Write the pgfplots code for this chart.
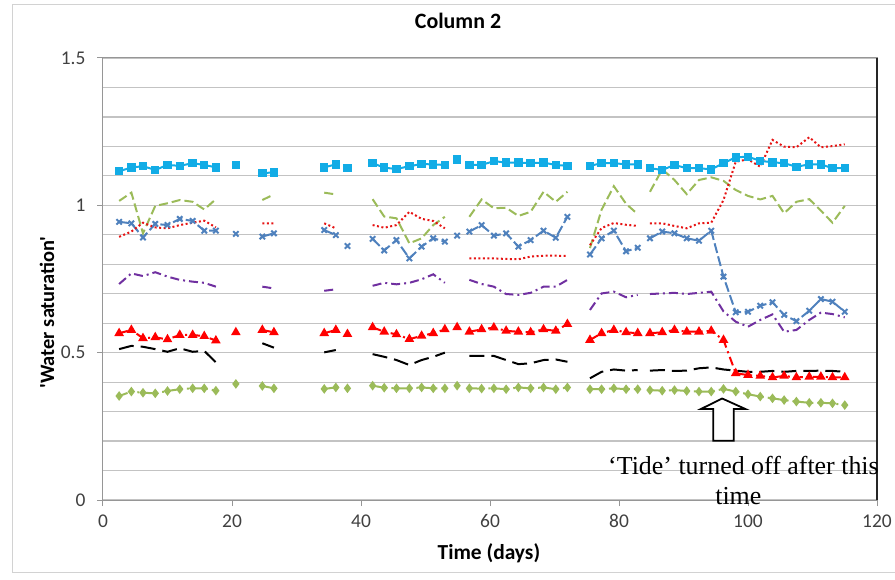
\documentclass[border=0pt]{standalone}
\usepackage{pgfplots}
\pgfplotsset{compat=1.18}
\usepackage{pgfplotstable}
\usepackage{fontspec}
\setmainfont{Carlito}[Ligatures=TeXOff]
\newfontfamily\timesfont{Liberation Serif}
\definecolor{cyanS}{RGB}{18,172,230}
\definecolor{oliveG}{RGB}{155,187,89}
\definecolor{blueX}{RGB}{79,129,189}
\definecolor{redT}{RGB}{255,0,0}
\definecolor{redD}{RGB}{230,20,20}
\definecolor{purpleD}{RGB}{112,48,160}
\definecolor{gridc}{RGB}{195,195,195}
\definecolor{axc}{RGB}{150,150,150}
\definecolor{tickc}{RGB}{64,64,64}

\pgfplotstableread{
t cy gd bx rd pu rt bk gm
2.5 1.116 1.015 0.944 0.893 0.733 0.566 0.512 0.353
4.4 1.128 1.043 0.939 0.911 0.769 0.577 0.523 0.368
6.2 1.133 0.905 0.891 0.941 0.760 0.549 0.520 0.364
8.1 1.120 0.998 0.937 0.925 0.773 0.552 0.512 0.362
10.0 1.137 1.007 0.933 0.922 0.758 0.545 0.503 0.370
11.9 1.134 1.018 0.954 0.933 0.747 0.560 0.515 0.376
13.9 1.143 1.012 0.947 0.941 0.741 0.560 0.503 0.379
15.7 1.137 0.986 0.914 0.948 0.737 0.556 0.506 0.379
17.5 1.129 1.021 0.914 0.925 0.724 0.541 0.467 0.371
19.0 nan nan nan nan nan nan nan nan
20.6 1.137 nan 0.903 nan nan 0.569 nan 0.394
22.0 nan nan nan nan nan nan nan nan
24.7 1.109 1.018 0.894 0.939 0.724 0.577 0.532 0.387
26.5 1.112 1.037 0.905 0.939 0.718 0.569 0.517 0.379
30.0 nan nan nan nan nan nan nan nan
34.3 1.129 1.043 0.916 0.939 0.710 0.566 0.501 0.377
36.1 1.139 1.037 0.899 0.922 0.715 0.577 0.509 0.382
37.0 nan nan nan nan nan nan nan nan
37.9 1.127 nan 0.862 nan nan 0.563 nan 0.379
39.8 nan nan nan nan nan nan nan nan
41.8 1.143 1.021 0.886 0.933 0.727 0.586 0.495 0.388
43.6 1.128 0.962 0.847 0.924 0.737 0.571 0.486 0.381
45.5 1.123 0.956 0.882 0.933 0.732 0.562 0.475 0.379
47.5 1.133 0.871 0.820 0.978 0.737 0.546 0.458 0.379
49.4 1.140 0.888 0.860 0.954 0.749 0.557 0.475 0.382
51.2 1.139 0.933 0.888 0.947 0.766 0.566 0.486 0.379
53.0 1.137 0.961 0.877 0.922 0.737 0.579 0.500 0.379
54.0 nan nan nan nan nan nan nan nan
54.9 1.156 nan 0.897 nan nan 0.586 nan 0.388
55.8 nan nan nan nan nan nan nan nan
56.8 1.137 0.961 0.911 0.820 0.747 0.571 0.489 0.379
58.7 1.137 1.020 0.933 0.820 0.733 0.579 0.489 0.378
60.6 1.150 0.990 0.897 0.820 0.724 0.585 0.489 0.379
62.5 1.145 0.992 0.905 0.818 0.699 0.574 0.475 0.376
64.4 1.145 0.964 0.860 0.817 0.696 0.571 0.461 0.382
66.3 1.143 0.978 0.882 0.826 0.703 0.569 0.464 0.379
68.3 1.145 1.046 0.914 0.829 0.724 0.579 0.475 0.382
70.2 1.137 1.012 0.890 0.829 0.724 0.574 0.477 0.376
72.0 1.134 1.046 0.961 0.828 0.747 0.597 0.469 0.382
74.0 nan nan nan nan nan nan nan nan
75.5 1.134 0.855 0.833 0.865 0.645 0.543 0.413 0.376
77.3 1.143 0.985 0.888 0.923 0.701 0.566 0.435 0.376
79.2 1.143 1.065 0.914 0.940 0.707 0.577 0.443 0.379
81.1 1.139 1.005 0.844 0.934 0.688 0.569 0.439 0.376
82.9 1.139 0.970 0.856 0.930 0.696 0.566 0.441 0.376
83.8 nan nan nan nan nan nan nan nan
84.8 1.126 1.046 0.888 0.939 0.699 0.566 0.439 0.373
86.7 1.120 1.122 0.911 0.939 0.701 0.569 0.441 0.371
88.6 1.137 1.086 0.905 0.930 0.703 0.577 0.438 0.373
90.5 1.126 1.038 0.888 0.922 0.699 0.571 0.439 0.370
92.4 1.126 1.086 0.880 0.939 0.703 0.571 0.447 0.368
94.3 1.122 1.095 0.914 0.941 0.707 0.574 0.450 0.368
96.2 1.143 1.083 0.758 1.018 0.640 0.543 0.443 0.377
98.1 1.163 1.052 0.637 1.148 0.605 0.430 0.439 0.368
100.0 1.165 1.032 0.639 1.156 0.588 0.424 0.435 0.359
101.9 1.151 1.020 0.659 1.131 0.611 0.421 0.435 0.351
103.8 1.146 1.032 0.671 1.222 0.630 0.416 0.438 0.345
105.6 1.143 0.973 0.628 1.199 0.571 0.421 0.435 0.339
107.5 1.131 1.012 0.607 1.197 0.577 0.416 0.438 0.334
109.5 1.139 1.021 0.642 1.231 0.611 0.418 0.438 0.330
111.3 1.139 0.982 0.682 1.197 0.636 0.418 0.439 0.330
113.1 1.126 0.941 0.673 1.201 0.631 0.416 0.438 0.328
115.0 1.126 0.998 0.639 1.207 0.620 0.416 0.435 0.322
}\datatable

\begin{document}
\begin{tikzpicture}
\useasboundingbox (-103bp,-80bp) rectangle (792bp,500bp);
\draw[gray!35, line width=1bp] (-90bp,-72bp) rectangle (800bp,495bp);
\begin{axis}[
  at={(0,0)}, anchor=south west,
  scale only axis, width=774bp, height=442bp,
  xmin=0, xmax=120, ymin=0, ymax=1.5,
  xtick={0,20,...,120}, ytick={0,0.5,1,1.5},
  minor y tick num=4, minor tick length=0pt,
  ymajorgrids, yminorgrids,
  major grid style={gridc, line width=1.2bp},
  minor grid style={gridc, line width=1.2bp},
  axis line style={axc, line width=1bp},
  tick style={axc, line width=1bp},
  major tick length=6bp, tick align=outside,
  xtick pos=bottom, ytick pos=left,
  unbounded coords=jump,
  /pgf/number format/assume math mode=true,
  tick label style={font=\fontsize{19.5}{21}\selectfont, text=tickc},
  xticklabel style={yshift=-5bp},
  yticklabel style={xshift=-8bp},
  title={Column 2},
  title style={at={(0.4587,1.0543)}, anchor=base, font=\bfseries\fontsize{22}{25}\selectfont},
  xlabel={Time (days)},
  xlabel style={at={(0.4986,-0.1357)}, anchor=base, font=\bfseries\fontsize{21.5}{25}\selectfont},
  ylabel={'Water saturation'},
  ylabel style={at={(-0.0633,0.424)}, anchor=base, rotate=0, font=\bfseries\fontsize{20.5}{25}\selectfont},
  clip=false,
]
\addplot[cyanS, line width=2bp, mark=square*, mark size=3.2bp, mark options={solid}] table[x=t,y=cy]{\datatable};
\addplot[oliveG, line width=2bp, dash pattern=on 9bp off 4bp, no marks] table[x=t,y=gd]{\datatable};
\addplot[blueX, line width=2bp, dash pattern=on 10bp off 3.5bp, mark=x, mark size=3.8bp, mark options={solid, line width=2bp}] table[x=t,y=bx]{\datatable};
\addplot[redD, line width=2bp, dash pattern=on 2bp off 2.5bp, no marks] table[x=t,y=rd]{\datatable};
\addplot[purpleD, line width=2bp, dash pattern=on 9bp off 4bp on 2bp off 4bp, no marks] table[x=t,y=pu]{\datatable};
\addplot[redT, line width=2bp, dash pattern=on 9bp off 4bp on 2bp off 4bp, mark=triangle*, mark size=3.6bp, mark options={solid}] table[x=t,y=rt]{\datatable};
\addplot[black, line width=2bp, dash pattern=on 15bp off 7bp, no marks] table[x=t,y=bk]{\datatable};
\addplot[oliveG, line width=2bp, dash pattern=on 9bp off 4bp on 2bp off 4bp on 2bp off 4bp, mark=diamond*, mark size=3.2bp, mark options={solid}] table[x=t,y=gm]{\datatable};
\draw[black!85, line width=1.2bp] (rel axis cs:1,0) -- (rel axis cs:1,1);
\draw[black, line width=1.8bp, fill=white, line join=miter]
  (axis cs:96.0,0.3444) -- (axis cs:99.6,0.3088) -- (axis cs:97.8,0.3088)
  -- (axis cs:97.8,0.2012) -- (axis cs:94.6,0.2012) -- (axis cs:94.6,0.3088)
  -- (axis cs:92.7,0.3088) -- cycle;
\node[anchor=base, inner sep=0pt, font=\timesfont\fontsize{26}{30}\selectfont] at (axis cs:99.3,0.0882) {‘Tide’ turned off after this};
\node[anchor=base, inner sep=0pt, font=\timesfont\fontsize{26}{30}\selectfont] at (axis cs:98.5,-0.0136) {time};
\end{axis}
\end{tikzpicture}
\end{document}
